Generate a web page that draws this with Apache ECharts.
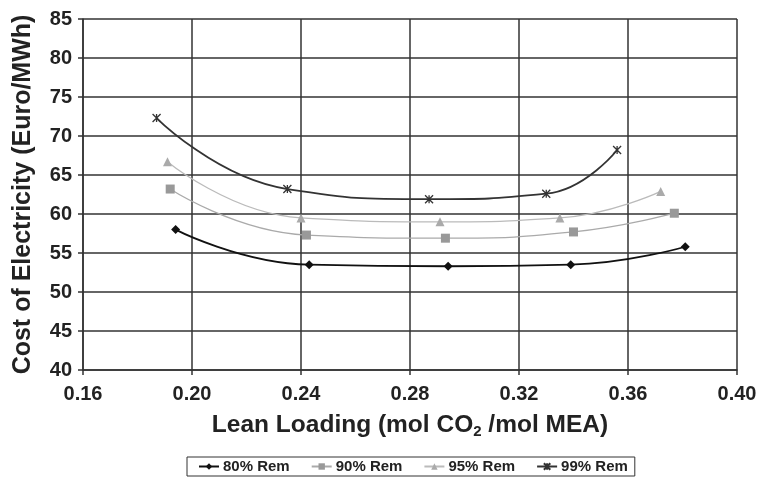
<!DOCTYPE html>
<html>
<head>
<meta charset="utf-8">
<script src="https://cdn.jsdelivr.net/npm/echarts@6/dist/echarts.min.js"></script>
<style>
  html, body { margin: 0; padding: 0; background: #fff; }
  #chart { width: 763px; height: 479px; }
</style>
</head>
<body>
<div id="chart"></div>
<script>
// Lean loading (mol CO2/mol MEA) vs cost of electricity (Euro/MWh)
const rem80X = [0.194, 0.243, 0.294, 0.339, 0.381];
const rem80Y = [58.0, 53.5, 53.3, 53.5, 55.8];
const rem90X = [0.192, 0.242, 0.293, 0.340, 0.377];
const rem90Y = [63.2, 57.3, 56.9, 57.7, 60.1];
const rem95X = [0.191, 0.240, 0.291, 0.335, 0.372];
const rem95Y = [66.7, 59.5, 59.0, 59.5, 62.9];
const rem99X = [0.187, 0.235, 0.287, 0.330, 0.356];
const rem99Y = [72.3, 63.2, 61.9, 62.6, 68.2];
const seriesNames = ['80% Rem', '90% Rem', '95% Rem', '99% Rem'];
const yTicks = [40, 45, 50, 55, 60, 65, 70, 75, 80, 85];
const xTicks = [0.16, 0.20, 0.24, 0.28, 0.32, 0.36, 0.40];

const pairs = (xs, ys) => xs.map((x, i) => [x, ys[i]]);
const starPath = 'path://M0,0L10,10M10,0L0,10M5,0L5,10';

const chart = echarts.init(document.getElementById('chart'), null, { renderer: 'canvas' });
const font = 'Liberation Sans, Arial, sans-serif';

function lineSeries(name, data, color, lineColor, width, symbol, size, extra) {
  return Object.assign({
    name: name,
    type: 'line',
    data: data,
    smooth: 0.5,
    symbol: symbol,
    symbolSize: size,
    showSymbol: true,
    lineStyle: { color: lineColor, width: width },
    itemStyle: { color: color },
    emphasis: { disabled: true },
    z: 3
  }, extra || {});
}

chart.setOption({
  animation: false,
  backgroundColor: '#fff',
  grid: { left: 83, right: 26, top: 19, bottom: 109, containLabel: false },
  legend: {
    left: 187, top: 457,
    padding: [2, 7, 2, 11],
    borderColor: '#333', borderWidth: 1,
    itemGap: 21,
    itemWidth: 20, itemHeight: 8,
    textStyle: { fontFamily: font, fontSize: 15, color: '#222', fontWeight: 'bold', padding: [0, 0, 0, -1] },
    data: seriesNames
  },
  xAxis: {
    type: 'value',
    min: 0.16, max: 0.40, interval: 0.04,
    name: '{a|Lean Loading (mol CO}{s|2}{a| /mol MEA)}',
    nameLocation: 'middle',
    nameGap: 41,
    nameTextStyle: {
      rich: {
        a: { fontFamily: font, fontSize: 24.5, fontWeight: 'bold', color: '#222', lineHeight: 28 },
        s: { fontFamily: font, fontSize: 15, fontWeight: 'bold', color: '#222', lineHeight: 15, verticalAlign: 'bottom' }
      }
    },
    axisLine: { show: true, lineStyle: { color: '#333', width: 1.5 } },
    axisTick: { show: true, length: 5, lineStyle: { color: '#333', width: 1.5 } },
    axisLabel: {
      margin: 14,
      fontFamily: font, fontSize: 20, fontWeight: 'bold', color: '#222',
      formatter: v => v.toFixed(2),
      customValues: xTicks
    },
    splitLine: { show: true, lineStyle: { color: '#333', width: 1.5 } }
  },
  yAxis: {
    type: 'value',
    min: 40, max: 85, interval: 5,
    name: 'Cost of Electricity (Euro/MWh)',
    nameLocation: 'middle',
    nameGap: 47,
    nameTextStyle: { fontFamily: font, fontSize: 25, fontWeight: 'bold', color: '#222' },
    axisLine: { show: true, lineStyle: { color: '#333', width: 1.5 } },
    axisTick: { show: true, length: 5, lineStyle: { color: '#333', width: 1.5 } },
    axisLabel: {
      margin: 11,
      fontFamily: font, fontSize: 20, fontWeight: 'bold', color: '#222',
      customValues: yTicks
    },
    splitLine: { show: true, lineStyle: { color: '#333', width: 1.5 } }
  },
  series: [
    lineSeries(seriesNames[0], pairs(rem80X, rem80Y), '#111', '#111', 1.8, 'diamond', 9),
    lineSeries(seriesNames[1], pairs(rem90X, rem90Y), '#999', '#aaa', 1.3, 'rect', 9),
    lineSeries(seriesNames[2], pairs(rem95X, rem95Y), '#aaa', '#bbb', 1.3, 'triangle', 9),
    lineSeries(seriesNames[3], pairs(rem99X, rem99Y), '#333', '#333', 1.8, starPath, 8,
      { itemStyle: { color: 'none', borderColor: '#333', borderWidth: 1.3 } })
  ]
});
</script>
</body>
</html>
